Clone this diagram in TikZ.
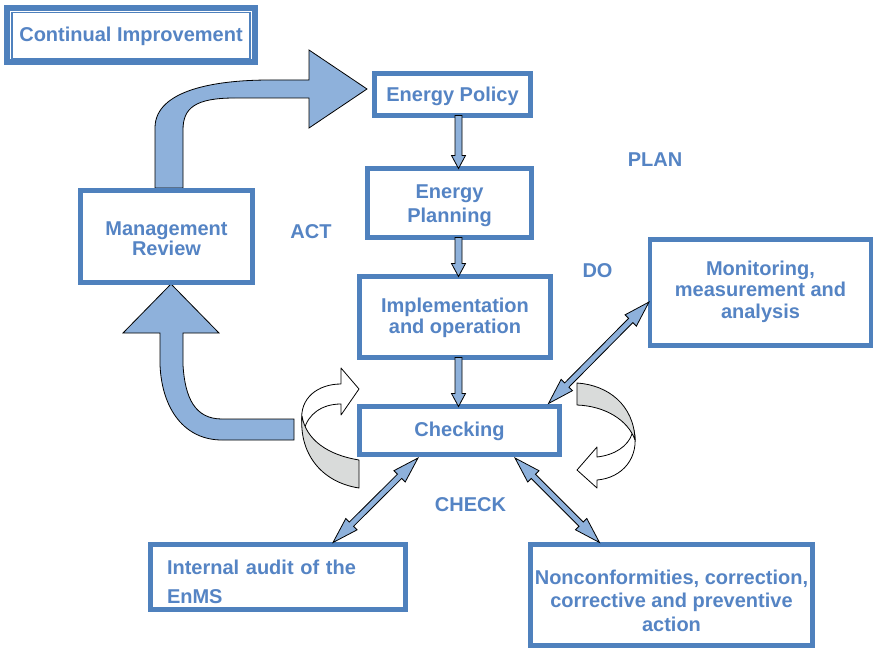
\documentclass[tikz,border=0pt]{standalone}
\usepackage{fontspec}
\setmainfont{Liberation Sans}
\usetikzlibrary{calc}

\definecolor{boxblue}{HTML}{4F81BD}
\definecolor{txtblue}{HTML}{5584C4}
\definecolor{arrowfill}{HTML}{8EB1DB}
\definecolor{ribbongray}{HTML}{D9DBDA}

\tikzset{
  box/.style={draw=boxblue, line width=4.5pt, fill=white, outer sep=0pt, inner sep=0pt},
  boxtext/.style={text=txtblue, inner sep=0pt, align=center,
    font=\bfseries\fontsize{20}{21.5}\selectfont},
  phase/.style={text=txtblue, font=\bfseries\fontsize{20}{24}\selectfont, inner sep=0pt},
  blockarr/.style={draw=black, line width=0.8pt, fill=arrowfill, line join=miter},
  ribbon/.style={draw=black, line width=0.8pt, line join=round},
}

% straight block arrow with one head: #1 tail, #2 tip
\newcommand{\blockarrow}[2]{%
  \coordinate (ba-h) at ($(#2)!13pt!(#1)$);
  \draw[blockarr] ($(#1)!3.5pt!90:(#2)$) -- ($(ba-h)!3.5pt!-90:(#1)$) -- ($(ba-h)!7pt!-90:(#1)$)
    -- (#2) -- ($(ba-h)!7pt!90:(#1)$) -- ($(ba-h)!3.5pt!90:(#1)$) -- ($(#1)!3.5pt!-90:(#2)$) -- cycle;
}
% block arrow with heads at both ends
\newcommand{\dblarrow}[2]{%
  \coordinate (da-p) at ($(#1)!26pt!(#2)$);
  \coordinate (da-q) at ($(#2)!26pt!(#1)$);
  \draw[blockarr] (#1) -- ($(da-p)!8pt!90:(#2)$) -- ($(da-p)!3pt!90:(#2)$)
    -- ($(da-q)!3pt!-90:(#1)$) -- ($(da-q)!8pt!-90:(#1)$) -- (#2)
    -- ($(da-q)!8pt!90:(#1)$) -- ($(da-q)!3pt!90:(#1)$)
    -- ($(da-p)!3pt!-90:(#2)$) -- ($(da-p)!8pt!-90:(#2)$) -- cycle;
}

\begin{document}
\begin{tikzpicture}[x=1pt, y=-1pt]
\useasboundingbox[fill=white] (0,0) rectangle (874,650);

% curved arrow from Management Review up to Energy Policy
\draw[blockarr] (155,188) -- (155,127) .. controls (156,90) and (215,80) .. (270,80)
  -- (309,80) -- (309,50) -- (367,89) -- (309,128) -- (309,98) -- (235,98)
  .. controls (195,98) and (183,108) .. (183,130) -- (183,188) -- cycle;

% curved arrow from Checking back to Management Review
\draw[blockarr] (171,284) -- (219,333) -- (183,333) -- (183,365)
  .. controls (185,398) and (195,419) .. (222,419) -- (294,419) -- (294,440) -- (222,440)
  .. controls (185,440) and (162,410) .. (160,365) -- (160,333) -- (123,333) -- cycle;

% looping ribbon arrow, left of Checking
\draw[ribbon, fill=white] (302,422) .. controls (299,398) and (318,384) .. (341,384)
  -- (341,368) -- (359,389) -- (341,415) -- (341,404)
  .. controls (322,404) and (308,414) .. (304,430) -- cycle;
\draw[ribbon, fill=ribbongray] (359,460) .. controls (328,455) and (306,440) .. (302,416)
  .. controls (299,452) and (320,482) .. (359,488) -- cycle;

% looping ribbon arrow, right of Checking
\draw[ribbon, fill=white] (634,430) .. controls (640,458) and (622,478) .. (597,480)
  -- (597,488) -- (577,470) -- (597,447) -- (597,457)
  .. controls (615,455) and (628,446) .. (632,434) -- cycle;
\draw[ribbon, fill=ribbongray] (577,383) .. controls (608,385) and (634,405) .. (635,440)
  .. controls (628,420) and (605,406) .. (577,405) -- cycle;

% title
\node[draw=boxblue, line width=6pt, outer sep=0pt, minimum width=248, minimum height=54] (ci) at (131,35) {};
\draw[boxblue, line width=1.2pt] ($(ci.north west)+(5,4.5)$) rectangle ($(ci.south east)+(-5,-3.5)$);
\node[boxtext] (ci-t) at (131,36) {Continual Improvement};

% process boxes
\node[box, minimum width=156, minimum height=42] (pol) at (452.5,94.5) {};
\node[box, minimum width=164, minimum height=69] (plan) at (449.5,203) {};
\node[box, minimum width=191, minimum height=81] (impl) at (455,317) {};
\node[box, minimum width=200, minimum height=48] (chk) at (459.5,430.5) {};
\node[box, minimum width=172, minimum height=92] (mgmt) at (166.5,236.5) {};
\node[box, minimum width=221, minimum height=106] (mon) at (760.5,292.5) {};
\node[box, minimum width=255, minimum height=65] (aud) at (278,577) {};
\node[box, minimum width=282, minimum height=101] (ncr) at (671.5,595) {};

% box texts
\node[boxtext] (pol-t) at ($(pol)+(0,2)$) {Energy Policy};
\node[boxtext, font=\bfseries\fontsize{20}{24}\selectfont] (plan-t) at ($(plan)+(0,3)$) {Energy\\Planning};
\node[boxtext] (impl-t) at ($(impl)+(0,1)$) {Implementation\\and operation};
\node[boxtext] (chk-t) at ($(chk)+(0,1)$) {Checking};
\node[boxtext, font=\bfseries\fontsize{20}{20.5}\selectfont] (mgmt-t) at ($(mgmt)+(0,2)$) {Management\\Review};
\node[boxtext] (mon-t) at ($(mon)+(0,-1)$) {Monitoring,\\measurement and\\analysis};
\node[boxtext, align=left, text width=222, font=\bfseries\fontsize{20}{29}\selectfont] (aud-t) at ($(aud)+(0,4.5)$) {Internal audit of the\\EnMS};
\node[boxtext, font=\bfseries\fontsize{20}{23.5}\selectfont] (ncr-t) at ($(ncr)+(0,5.5)$) {Nonconformities, correction,\\corrective and preventive\\action};

% phase labels
\node[phase] (lplan) at (655,160) {PLAN};
\node[phase] (lact) at (311,232) {ACT};
\node[phase] (ldo) at (597.5,271) {DO};
\node[phase] (lcheck) at (470.5,504.5) {CHECK};

% flow between the process boxes
\coordinate (f1a) at ($(pol.south -| chk.north)+(-1,0)$);
\coordinate (f1b) at ($(plan.north -| chk.north)+(-1,0)$);
\coordinate (f2a) at ($(plan.south -| chk.north)+(-1,0)$);
\coordinate (f2b) at ($(impl.north -| chk.north)+(-1,0)$);
\coordinate (f3a) at ($(impl.south -| chk.north)+(-1,0)$);
\coordinate (f3b) at ($(chk.north)+(-1,0)$);
\blockarrow{f1a}{f1b}
\blockarrow{f2a}{f2b}
\blockarrow{f3a}{f3b}

% two-way links of Checking
\coordinate (m1) at ($(chk.north east)+(-11,-3)$);
\coordinate (m2) at ($(mon.west)+(-1,9.5)$);
\dblarrow{m1}{m2}
\coordinate (a1) at ($(chk.south)+(-41.5,3.5)$);
\coordinate (a2) at ($(aud.north)+(55,-2)$);
\dblarrow{a1}{a2}
\coordinate (n1) at ($(chk.south)+(55.5,3.5)$);
\coordinate (n2) at ($(ncr.north)+(-72,-2)$);
\dblarrow{n1}{n2}
\end{tikzpicture}
\end{document}
